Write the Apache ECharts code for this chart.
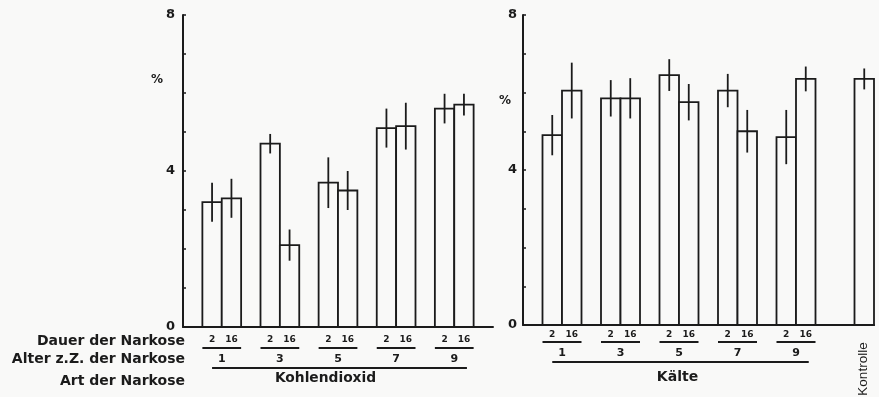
<!DOCTYPE html>
<html>
<head>
<meta charset="utf-8">
<script src="https://cdn.jsdelivr.net/npm/echarts@6/dist/echarts.min.js"></script>
<style>
  html, body { margin: 0; padding: 0; background: #f9f9f8; }
  #chart { width: 879px; height: 397px; }
</style>
</head>
<body>
<div id="chart"></div>
<script>
// Alter zur Zeit der Narkose (Gruppen) und Dauer der Narkose (Balken je Gruppe)
const ages = ['1', '3', '5', '7', '9'];
const durations = ['2', '16'];

// Kohlendioxid-Narkose: Mittelwerte (%) und Streuung
const co2Dauer2 = [3.2, 4.7, 3.7, 5.1, 5.6];
const co2Dauer16 = [3.3, 2.1, 3.5, 5.15, 5.7];
const co2Err2 = [0.5, 0.25, 0.65, 0.5, 0.38];
const co2Err16 = [0.5, 0.4, 0.5, 0.6, 0.28];

// Kälte-Narkose: Mittelwerte (%) und Streuung
const kaelteDauer2 = [4.9, 5.85, 6.45, 6.05, 4.85];
const kaelteDauer16 = [6.05, 5.85, 5.75, 5.0, 6.35];
const kaelteErr2 = [0.52, 0.47, 0.41, 0.43, 0.7];
const kaelteErr16 = [0.72, 0.52, 0.47, 0.55, 0.32];

// Kontrolle
const kontrolleWert = 6.35;
const kontrolleErr = 0.27;

// y-Achse
const yTicks = [0, 4, 8];

const INK = '#1b1b1b';
const PAPER = '#f9f9f8';

// Slots along each category axis: an empty slot before every group pair,
// the pair of bars, and trailing empties (plus the Kontrolle bar on the right).
function buildSlots(v2, v16, e2, e16, trailing, extra) {
  const names = [], values = [], errs = [], groups = [];
  ages.forEach((a, g) => {
    names.push(''); values.push('-'); errs.push(null);
    const first = names.length;
    names.push(durations[0]); values.push(v2[g]); errs.push(e2[g]);
    names.push(durations[1]); values.push(v16[g]); errs.push(e16[g]);
    groups.push({ age: a, first: first, last: first + 1 });
  });
  for (let i = 0; i < trailing; i++) { names.push(''); values.push('-'); errs.push(null); }
  let extraIdx = null;
  if (extra) {
    extraIdx = names.length;
    names.push(''); values.push(extra.value); errs.push(extra.err);
  }
  return { names, values, errs, groups, extraIdx };
}

const left = buildSlots(co2Dauer2, co2Dauer16, co2Err2, co2Err16, 1, null);
const right = buildSlots(kaelteDauer2, kaelteDauer16, kaelteErr2, kaelteErr16, 2,
  { value: kontrolleWert, err: kontrolleErr });

function errData(s) {
  const out = [];
  s.values.forEach((v, i) => {
    if (s.errs[i] != null) out.push([i, v - s.errs[i], v + s.errs[i]]);
  });
  return out;
}

function renderErr(params, api) {
  const x = api.value(0);
  const p1 = api.coord([x, api.value(1)]);
  const p2 = api.coord([x, api.value(2)]);
  return {
    type: 'line',
    shape: { x1: p1[0], y1: p1[1], x2: p2[0], y2: p2[1] },
    style: { stroke: INK, lineWidth: 1.8 }
  };
}

// Open rectangles filling a whole category slot each
function renderBar(params, api) {
  const x = api.value(0);
  const top = api.coord([x, api.value(1)]);
  const bottom = api.coord([x, 0]);
  const w = api.size([1, 0])[0];
  return {
    type: 'rect',
    shape: { x: top[0] - w / 2, y: top[1], width: w, height: bottom[1] - top[1] },
    style: { fill: PAPER, stroke: INK, lineWidth: 1.8 }
  };
}

function barData(s) {
  const out = [];
  s.values.forEach((v, i) => { if (v !== '-') out.push([i, v]); });
  return out;
}

function yAxis(gridIndex, margin) {
  return {
    type: 'value', gridIndex: gridIndex, min: 0, max: 8, interval: 1,
    axisLine: { show: true, lineStyle: { color: INK, width: 2 } },
    axisTick: { show: true, inside: true, length: 3, lineStyle: { color: INK, width: 1.5 } },
    splitLine: { show: false },
    axisLabel: {
      margin: margin, color: INK, fontFamily: 'DejaVu Sans', fontWeight: 'bold', fontSize: 13,
      formatter: v => (yTicks.indexOf(v) >= 0 ? String(v) : '')
    }
  };
}

function xAxis(gridIndex, names, margin) {
  return {
    type: 'category', gridIndex: gridIndex, data: names,
    axisLine: { show: true, onZero: false, lineStyle: { color: INK, width: 2 } },
    axisTick: { show: false },
    axisLabel: {
      interval: 0, margin: margin, color: INK, fontFamily: 'DejaVu Sans',
      fontWeight: 'bold', fontSize: 9
    }
  };
}

const chart = echarts.init(document.getElementById('chart'), null, { renderer: 'canvas' });

chart.setOption({
  backgroundColor: PAPER,
  animation: false,
  grid: [
    { left: 183, right: 386, top: 15, bottom: 70 },
    { left: 523, right: 5, top: 15, bottom: 72 }
  ],
  xAxis: [xAxis(0, left.names, 8), xAxis(1, right.names, 5)],
  yAxis: [yAxis(0, 8), yAxis(1, 6)],
  series: [
    { type: 'custom', xAxisIndex: 0, yAxisIndex: 0, data: barData(left), renderItem: renderBar, silent: true, z: 2 },
    { type: 'custom', xAxisIndex: 1, yAxisIndex: 1, data: barData(right), renderItem: renderBar, silent: true, z: 2 },
    { type: 'custom', xAxisIndex: 0, yAxisIndex: 0, data: errData(left), renderItem: renderErr, silent: true, z: 3 },
    { type: 'custom', xAxisIndex: 1, yAxisIndex: 1, data: errData(right), renderItem: renderErr, silent: true, z: 3 }
  ]
});

// Grouping lines and labels beneath each panel, placed from the axes' own scales.
function groupGraphics(idx, s, off, artLabel, artShift) {
  const els = [];
  const px = i => chart.convertToPixel({ xAxisIndex: idx }, i);
  const base = chart.convertToPixel({ yAxisIndex: idx }, 0);
  const half = (px(1) - px(0)) / 2;
  const font = (size, weight) => ({
    fill: INK, fontFamily: 'DejaVu Sans', fontWeight: weight || 'bold', fontSize: size,
    align: 'center', verticalAlign: 'middle'
  });
  s.groups.forEach(g => {
    const x1 = px(g.first) - half, x2 = px(g.last) + half;
    els.push({ type: 'line', shape: { x1: x1, y1: base + off.under, x2: x2, y2: base + off.under },
      style: { stroke: INK, lineWidth: 2 } });
    els.push({ type: 'text', x: (x1 + x2) / 2, y: base + off.age,
      style: Object.assign({ text: g.age }, font(11)) });
  });
  const lx1 = px(s.groups[0].first), lx2 = px(s.groups[s.groups.length - 1].last) + 3;
  els.push({ type: 'line', shape: { x1: lx1, y1: base + off.long, x2: lx2, y2: base + off.long },
    style: { stroke: INK, lineWidth: 2 } });
  els.push({ type: 'text', x: (lx1 + lx2) / 2 + artShift, y: base + off.art,
    style: Object.assign({ text: artLabel }, font(off.artSize)) });
  return els;
}

const graphics = []
  .concat(groupGraphics(0, left, { under: 21, age: 32, long: 41, art: 51, artSize: 13.8 }, 'Kohlendioxid', -14))
  .concat(groupGraphics(1, right, { under: 17, age: 28.5, long: 37, art: 52, artSize: 14 }, 'Kälte', -3));

// Row captions on the far left
const rowStyle = { fill: INK, fontFamily: 'DejaVu Sans', fontWeight: 'bold', fontSize: 14,
  align: 'right', verticalAlign: 'middle' };
[['Dauer der Narkose', 341], ['Alter z.Z. der Narkose', 359.5], ['Art der Narkose', 381]].forEach(r => {
  graphics.push({ type: 'text', x: 185, y: r[1], style: Object.assign({ text: r[0] }, rowStyle) });
});

// Unit labels
const pctStyle = { fill: INK, fontFamily: 'DejaVu Sans', fontWeight: 'bold', fontSize: 12,
  align: 'center', verticalAlign: 'middle' };
graphics.push({ type: 'text', x: 157, y: 80, style: Object.assign({ text: '%' }, pctStyle) });
graphics.push({ type: 'text', x: 505, y: 101, style: Object.assign({ text: '%' }, pctStyle) });

// Kontrolle caption, vertical under its bar
const kx = chart.convertToPixel({ xAxisIndex: 1 }, right.extraIdx);
graphics.push({
  type: 'text', x: kx - 0.5, y: 369, rotation: Math.PI / 2,
  style: { text: 'Kontrolle', fill: INK, fontFamily: 'Liberation Sans', fontSize: 13.5,
    align: 'center', verticalAlign: 'middle' }
});

chart.setOption({ graphic: graphics });
</script>
</body>
</html>
